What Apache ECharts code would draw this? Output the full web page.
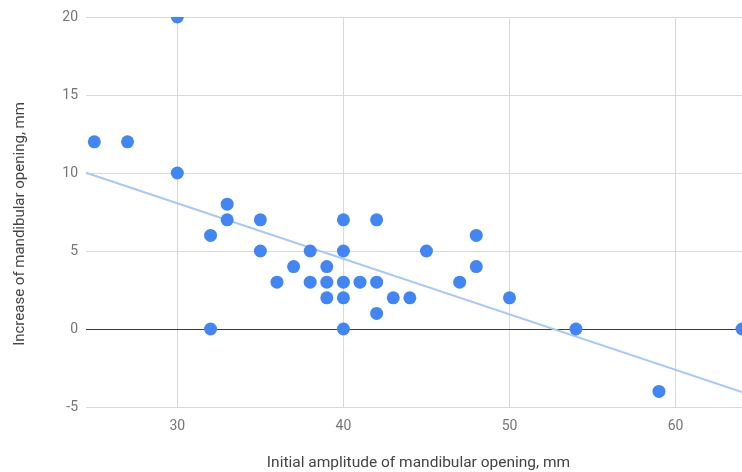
<!DOCTYPE html>
<html><head><meta charset="utf-8">
<script src="https://cdn.jsdelivr.net/npm/echarts@6/dist/echarts.min.js"></script>
<style>html,body{margin:0;padding:0;background:#fff}#c{width:742px;height:472px}</style>
</head><body><div id="c"></div>
<script>
const initialOpening = [25,27,30,30,32,32,33,33,35,35,36,37,38,38,39,39,39,40,40,40,40,40,41,42,42,42,43,44,45,47,48,48,50,54,59,64];
const increase       = [12,12,20,10,6,0,8,7,7,5,3,4,5,3,4,3,2,7,5,3,2,0,3,7,3,1,2,2,5,3,6,4,2,0,-4,0];
const xTicks = [30,40,50,60];
const xRange = [24.5, 64];
const yRange = [-5, 20];
// linear trendline: y = trendIntercept + trendSlope * x
const trendSlope = -0.356;
const trendIntercept = 18.74;

const pts = initialOpening.map((x,i)=>[x, increase[i]]);
const trend = xRange.map(x=>[x, trendIntercept + trendSlope*x]);

const chart = echarts.init(document.getElementById('c'));
const font = 'Roboto';
chart.setOption({
  animation:false,
  grid:{left:86,right:0,top:17,bottom:65,outerBoundsMode:'none',containLabel:false},
  xAxis:{type:'value',min:xRange[0],max:xRange[1],
    name:'Initial amplitude of mandibular opening, mm',nameLocation:'middle',nameGap:48,
    nameTextStyle:{color:'#444',fontSize:15.5,fontFamily:font,padding:[0,0,0,9]},
    axisLine:{show:false},
    axisTick:{show:false,customValues:xTicks},
    axisLabel:{customValues:xTicks,color:'#757575',fontSize:14,fontFamily:font,margin:12},
    splitLine:{show:true,lineStyle:{color:'#d9d9d9',width:1}}
  },
  yAxis:{type:'value',min:yRange[0],max:yRange[1],interval:5,
    name:'Increase of mandibular opening, mm',nameLocation:'middle',nameGap:58,
    nameTextStyle:{color:'#444',fontSize:15,fontFamily:font,padding:[0,24,0,0]},
    axisLine:{show:false},axisTick:{show:false},
    axisLabel:{color:'#757575',fontSize:14,fontFamily:font,margin:8},
    splitLine:{lineStyle:{color:'#d9d9d9',width:1}}
  },
  series:[
    {type:'line',data:trend,symbol:'none',z:2,silent:true,
     lineStyle:{color:'#a8c7fa',width:2},
     markLine:{silent:true,symbol:'none',z:1,label:{show:false},
       lineStyle:{color:'#3c3c3c',width:1,type:'solid'},data:[{yAxis:0}]}
    },
    {type:'custom',data:pts,clip:true,z:3,silent:true,
     encode:{x:0,y:1},
     renderItem:function(params, api){
       const p = api.coord([api.value(0), api.value(1)]);
       return {type:'circle',shape:{cx:p[0],cy:p[1],r:6.5},style:{fill:'#4285f4'}};
     }}
  ]
});
</script></body></html>
